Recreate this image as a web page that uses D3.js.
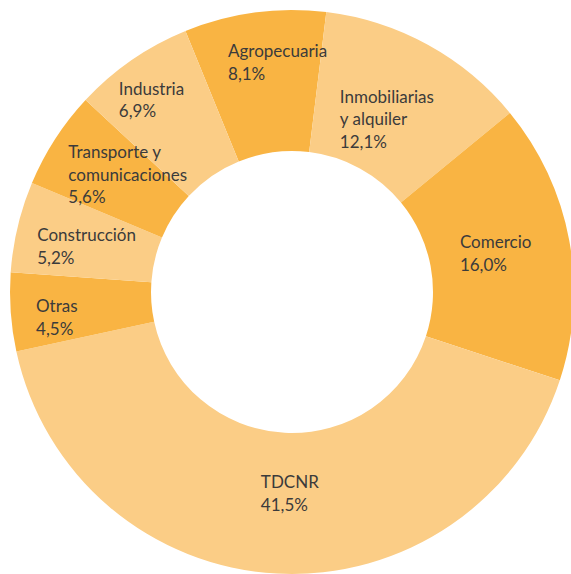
<!DOCTYPE html>
<html>
<head>
<meta charset="utf-8">
<script src="https://cdn.jsdelivr.net/npm/d3@7"></script>
<style>
  html, body { margin: 0; padding: 0; background: #ffffff; }
  svg { display: block; }
</style>
</head>
<body>
<svg id="chart" width="571" height="574"></svg>
<script>
// Data
const sectors = ["Agropecuaria", "Inmobiliarias y alquiler", "Comercio", "TDCNR", "Otras", "Construcción", "Transporte y comunicaciones", "Industria"];
const shares = [8.1, 12.1, 16.0, 41.5, 4.5, 5.2, 5.6, 6.9];
const shareLabels = ["8,1%", "12,1%", "16,0%", "41,5%", "4,5%", "5,2%", "5,6%", "6,9%"];
const labelLines = [
  ["Agropecuaria"],
  ["Inmobiliarias", "y alquiler"],
  ["Comercio"],
  ["TDCNR"],
  ["Otras"],
  ["Construcción"],
  ["Transporte y", "comunicaciones"],
  ["Industria"]
];

// Layout / style (kept separate from data)
const cx = 292, cy = 292, outerR = 282, innerR = 141;
const startDeg = -22.2;
const colors = ["#F9B443", "#FBCD86"];
const labelNudge = [
  [-36, -25], [-54, -4], [-40, -5], [-20, -15],
  [-45, 5], [-49, -2], [-46, -19], [-53, -23]
];
const lineH = 22.5;

const svg = d3.select("#chart");
const g = svg.append("g").attr("transform", `translate(${cx},${cy})`);

const pie = d3.pie()
  .sort(null)
  .value(d => d)
  .startAngle(startDeg * Math.PI / 180)
  .endAngle((startDeg + 360) * Math.PI / 180);

const arc = d3.arc().innerRadius(innerR).outerRadius(outerR);
const arcs = pie(shares);

g.selectAll("path.slice")
  .data(arcs)
  .join("path")
  .attr("class", "slice")
  .attr("d", arc)
  .attr("fill", (d, i) => colors[i % 2]);

const labels = g.selectAll("text.lbl")
  .data(arcs)
  .join("text")
  .attr("class", "lbl")
  .attr("font-family", "Lato, 'Noto Sans', sans-serif")
  .attr("font-size", 17)
  .attr("fill", "#3b3b3b")
  .attr("text-anchor", "start")
  .each(function(d, i) {
    const c = arc.centroid(d);
    const x = c[0] + labelNudge[i][0];
    const y = c[1] + labelNudge[i][1];
    const t = d3.select(this);
    const lines = labelLines[i].concat([shareLabels[i]]);
    lines.forEach((ln, k) => {
      t.append("tspan")
        .attr("x", x)
        .attr("y", y + k * lineH)
        .text(ln);
    });
  });
</script>
</body>
</html>
